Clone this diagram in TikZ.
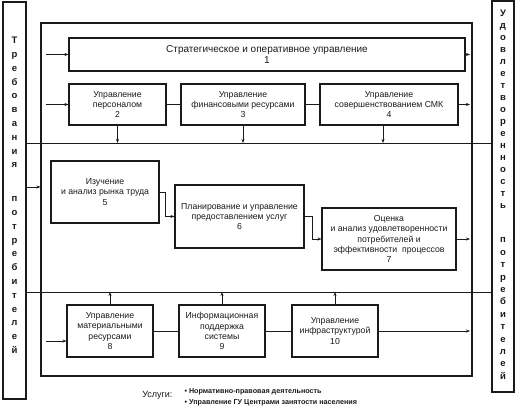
\documentclass[tikz,border=0pt]{standalone}
\usepackage{fontspec}
\setmainfont{Liberation Sans}
\usepackage{tikz}
\usetikzlibrary{arrows.meta,positioning,calc}
\definecolor{InkBlack}{HTML}{1A1A1A}
\tikzset{
  BX/.style={rectangle,draw=InkBlack,line width=1.1pt,inner sep=1pt,
             text=InkBlack,align=center,font=\fontsize{8.7}{10.2}\selectfont},
  arr/.style={-{Stealth[length=4pt,width=3pt]},line width=0.6pt,InkBlack},
  lnk/.style={line width=1pt,InkBlack},
  bar/.style={rectangle,draw=InkBlack,line width=1.1pt,minimum width=23pt},
  vword/.style={align=center,text=InkBlack,
                font=\fontsize{9.5}{13.8}\selectfont\bfseries}
}
\begin{document}
\begin{tikzpicture}[x=1pt,y=-1pt]
  \useasboundingbox (0,0) rectangle (516,408);
  % side bars
  \node[bar,minimum height=397pt] (treb) at (14.5,200.5) {};
  \node[bar,minimum height=391pt,minimum width=22pt] (udov) at (503,196.5) {};
  \node[vword] (trebA) at (14.5,102.5) {Т\\р\\е\\б\\о\\в\\а\\н\\и\\я};
  \node[vword] (trebB) at (14.5,275) {п\\о\\т\\р\\е\\б\\и\\т\\е\\л\\е\\й};
  \node[vword,font=\fontsize{9.5}{12}\selectfont\bfseries] (udovA) at (503,109)
    {У\\д\\о\\в\\л\\е\\т\\в\\о\\р\\е\\н\\н\\о\\с\\т\\ь};
  \node[vword,font=\fontsize{9.5}{12.4}\selectfont\bfseries] (udovB) at (503,308.5)
    {п\\о\\т\\р\\е\\б\\и\\т\\е\\л\\е\\й};
  % frame and levels
  \node[draw=InkBlack,line width=1.1pt,minimum width=431pt,minimum height=353pt]
    (frame) at (256.5,199.5) {};
  \coordinate (sepA) at (0,143);
  \coordinate (sepB) at (0,292);
  \coordinate (inX) at (46,0);
  \coordinate (outX) at (470,0);
  \coordinate (midIn) at (0,187);
  \coordinate (inC) at (46,341);
  \draw[lnk] (treb.east |- sepA) -- (udov.west |- sepA);
  \draw[lnk] (treb.east |- sepB) -- (udov.west |- sepB);
  % upper level
  \node[BX,minimum width=396pt,minimum height=33pt,
        font=\fontsize{10}{11}\selectfont] (b1) at (267,54.5)
    {Стратегическое и оперативное управление\\1};
  \node[BX,minimum width=97pt,minimum height=41pt] (b2) at (117.5,104.5)
    {Управление\\персоналом\\2};
  \node[BX,minimum width=124pt,minimum height=41pt] (b3) at (243,104.5)
    {Управление\\финансовыми ресурсами\\3};
  \node[BX,minimum width=138pt,minimum height=41pt] (b4) at (389,104.5)
    {Управление\\совершенствованием СМК\\4};
  \draw[lnk] (b2) -- (b3);
  \draw[lnk] (b3) -- (b4);
  \draw[arr] (inX |- b1.west) -- (b1.west);
  \draw[arr] (inX |- b2.west) -- (b2.west);
  \draw[arr] (b1.east) -- (b1.east -| outX);
  \draw[arr] (b4.east) -- (b4.east -| outX);
  \draw[arr] (b2.south) -- (b2.south |- sepA);
  \draw[arr] (b3.south) -- (b3.south |- sepA);
  \draw[arr] ([xshift=-6pt]b4.south) -- ([xshift=-6pt]b4.south |- sepA);
  % middle level
  \node[BX,minimum width=108pt,minimum height=62pt] (b5) at (105,192)
    {Изучение\\и анализ рынка труда\\5};
  \node[BX,minimum width=129pt,minimum height=63pt] (b6) at (239.5,216.5)
    {Планирование и управление\\предоставлением услуг\\6};
  \node[BX,minimum width=134pt,minimum height=62pt] (b7) at (389,239)
    {Оценка\\и анализ удовлетворенности\\потребителей и\\эффективности\ \ процессов\\7};
  \draw[arr] (treb.east |- midIn) -- (frame.west |- midIn);
  \draw[arr] (b5.east) -- ++(6,0) |- (b6.west);
  \draw[arr] (b6.east) -- ++(8,0) |- (b7.west);
  \draw[arr] (b7.east) -- (b7.east -| outX);
  % lower level
  \node[BX,minimum width=86pt,minimum height=52pt] (b8) at (110,331)
    {Управление\\материальными\\ресурсами\\8};
  \node[BX,minimum width=86pt,minimum height=52pt] (b9) at (222,331)
    {Информационная\\поддержка\\системы\\9};
  \node[BX,minimum width=86pt,minimum height=52pt] (b10) at (335,331)
    {Управление\\инфраструктурой\\10};
  \draw[lnk] (b8) -- (b9);
  \draw[lnk] (b9) -- (b10);
  \draw[arr] (inC) -- (inC -| b8.west);
  \draw[arr] (b10.east) -- (b10.east -| outX);
  \draw[arr] (b8.north) -- (b8.north |- sepB);
  \draw[arr] (b9.north) -- (b9.north |- sepB);
  \draw[arr] (b10.north) -- (b10.north |- sepB);
  % services
  \node[anchor=east,text=InkBlack,font=\fontsize{9}{10}\selectfont] (usl) at (176,395) {Услуги:};
  \node[anchor=west,align=left,text=InkBlack,font=\fontsize{7.2}{10.5}\selectfont\bfseries]
    (uslist) at (181,397.5)
    {• Нормативно-правовая деятельность\\• Управление ГУ Центрами занятости населения};
\end{tikzpicture}
\end{document}
